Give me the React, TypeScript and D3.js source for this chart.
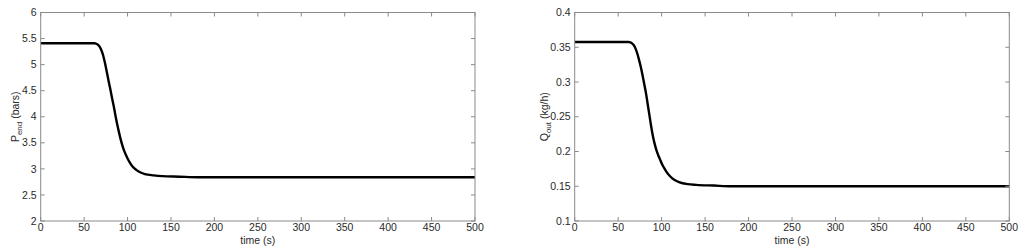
import React from 'react';
import * as d3 from 'd3';

// time samples (s) shared by both series
const time = [0, 60, 62, 64, 66, 68, 70, 72, 74, 76, 78, 80, 82, 84, 86, 88, 90, 92, 94, 96, 98, 100, 103, 106, 110, 115, 120, 130, 140, 160, 180, 500];

// end pressure (bars)
const pEnd = [5.41, 5.41, 5.41, 5.40, 5.38, 5.34, 5.27, 5.17, 5.03, 4.87, 4.70, 4.54, 4.37, 4.21, 4.03, 3.86, 3.71, 3.57, 3.45, 3.35, 3.27, 3.20, 3.11, 3.04, 2.98, 2.93, 2.90, 2.875, 2.86, 2.85, 2.84, 2.84];

// outlet flow (kg/h)
const qOut = [0.3575, 0.3575, 0.3575, 0.357, 0.3555, 0.353, 0.348, 0.341, 0.332, 0.322, 0.310, 0.297, 0.284, 0.268, 0.252, 0.236, 0.222, 0.211, 0.202, 0.195, 0.189, 0.183, 0.176, 0.170, 0.164, 0.159, 0.156, 0.153, 0.152, 0.151, 0.150, 0.150];

const xTicks = [0, 50, 100, 150, 200, 250, 300, 350, 400, 450, 500];
const yTicksP = [2, 2.5, 3, 3.5, 4, 4.5, 5, 5.5, 6];
const yTicksQ = [0.1, 0.15, 0.2, 0.25, 0.3, 0.35, 0.4];

const font = '"Liberation Sans", Arial, sans-serif';
const axisColor = '#8a8a8a';
const textColor = '#2a2a2a';

type PanelProps = {
  left: number;
  right: number;
  values: number[];
  yDomain: [number, number];
  yTicks: number[];
  labelX: number;
  labelMain: string;
  labelSub: string;
  labelUnit: string;
};

function Panel({ left, right, values, yDomain, yTicks, labelX, labelMain, labelSub, labelUnit }: PanelProps) {
  const top = 12.5;
  const bottom = 221;
  const tick = 4;

  const x = d3.scaleLinear().domain([0, 500]).range([left, right]);
  const y = d3.scaleLinear().domain(yDomain).range([bottom, top]);

  const line = d3.line<number>()
    .x((d, i) => x(time[i]))
    .y(d => y(d))
    .curve(d3.curveMonotoneX);

  const midY = (top + bottom) / 2;

  return (
    <g fontFamily={font} fontSize={10.5}>
      <path d={line(values) || ''} fill="none" stroke="#000" strokeWidth={2.4} />
      <rect x={left} y={top} width={right - left} height={bottom - top} fill="none" stroke={axisColor} strokeWidth={1} />
      {xTicks.map(t => (
        <g key={'x' + t}>
          <line x1={x(t)} x2={x(t)} y1={bottom} y2={bottom - tick} stroke={axisColor} />
          <line x1={x(t)} x2={x(t)} y1={top} y2={top + tick} stroke={axisColor} />
          <text x={x(t)} y={bottom + 10} textAnchor="middle" fill={textColor}>{t}</text>
        </g>
      ))}
      {yTicks.map(t => (
        <g key={'y' + t}>
          <line x1={left} x2={left + tick} y1={y(t)} y2={y(t)} stroke={axisColor} />
          <line x1={right} x2={right - tick} y1={y(t)} y2={y(t)} stroke={axisColor} />
          <text x={left - 4} y={y(t)} dy="0.35em" textAnchor="end" fill={textColor}>{String(t)}</text>
        </g>
      ))}
      <text x={(left + right) / 2} y={bottom + 23} textAnchor="middle" fill={textColor}>time (s)</text>
      <text transform={`translate(${labelX},${midY}) rotate(-90)`} textAnchor="middle" fill={textColor}>
        {labelMain}
        <tspan fontSize={8} dy={3}>{labelSub}</tspan>
        <tspan dy={-3}>{' ' + labelUnit}</tspan>
      </text>
    </g>
  );
}

export default function App() {
  return (
    <svg width={1024} height={251} style={{ position: 'absolute', left: 0, top: 0, background: '#fff' }}>
      <rect width={1024} height={251} fill="#fff" />
      <Panel left={40.7} right={475} values={pEnd} yDomain={[2, 6]} yTicks={yTicksP}
        labelX={19} labelMain="P" labelSub="end" labelUnit="(bars)" />
      <Panel left={574.7} right={1009.3} values={qOut} yDomain={[0.1, 0.4]} yTicks={yTicksQ}
        labelX={548} labelMain="Q" labelSub="out" labelUnit="(kg/h)" />
    </svg>
  );
}
